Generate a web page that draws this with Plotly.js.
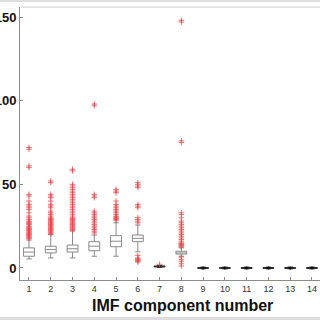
<!DOCTYPE html>
<html>
<head>
<meta charset="utf-8">
<script src="https://cdn.plot.ly/plotly-3.0.1.min.js"></script>
<style>html,body{margin:0;padding:0;background:#fff;}#chart{width:320px;height:320px;}</style>
</head>
<body>
<div id="chart"></div>
<script>
var components = [1,2,3,4,5,6,7,8,9,10,11,12,13,14];
var q1Values     = [7,   9,   9.5, 10.3, 12.7, 15.7, 0.6, 8.3, -0.2,-0.2,-0.2,-0.2,-0.2,-0.2];
var medianValues = [9.5, 11,  11.5, 13,  16,   17.7, 0.9, 9.0, 0, 0, 0, 0, 0, 0];
var q3Values     = [12,  13,  13.7, 15.7, 19.3, 19.7, 1.2, 10.0, 0.2, 0.2, 0.2, 0.2, 0.2, 0.2];
var lowerValues  = [5.4, 6,   6,    7,    7,    9.7,  0.3, 7.0, -0.5,-0.5,-0.5,-0.5,-0.5,-0.5];
var upperValues  = [16.7,20,  22,   19.7, 27,   25.7, 1.5, 12.0, 0.5, 0.5, 0.5, 0.5, 0.5, 0.5];

var out1 = [17.5,18,18.5,19,19.5,20,20.5,21,21.5,22,22.5,23,23.5,24,24.5,25,26,26.5,27,27.5,28,29,30,31,33,35,36,37,38,40,43,44,60,61,71,72];
var out2 = [20.5,21,21.5,22,22.5,23,23.5,24,24.5,25,25.5,26,26.5,27,27.5,28,28.5,29,29.5,30,31,32,33,34,36,37,38,40,42,43,44,51,52];
var out3 = [22.5,23,23.5,24,24.5,25,25.5,26,26.5,27,27.5,28,28.5,29,29.5,30,31,32,33,34,35,36,37,38,39,40,41,42,43,44,45,46,47,48,49,50,58,59];
var out4 = [21,22,23,24,25,26,27,28,29,30,31,32,33,34,42,43,44,97,98];
var out5 = [28.5,29,29.5,30,30.5,31,32,33,34,35,36,37,38,40,45,46,47];
var out6 = [27,28,29,30,36,37,38,48,49,50,51,3.5,4,4.5,5,5.5,6,7.5];
var out7 = [2.2];
var out8 = [12.5,13,13.5,14,14.5,15,16,17,18,19,20,21,22,23,24,25,26,27,28,30,32,33,75,76,147,148,6.5,5,4,2.5,1.2];
var outliers = [out1,out2,out3,out4,out5,out6,out7,out8,[],[],[],[],[],[]];
var tickLabels = ['1','2','3','4','5','6','7','8','9','10','11','12','13','14'];
var xTitle = 'IMF component number';

var boxColors = components.map(function(c){ return c >= 9 ? '#222222' : (c === 7 ? '#333333' : '#8a8a8a'); });

var traces = [];
components.forEach(function(c, i){
  traces.push({
    type: 'box',
    x: [c],
    q1: [q1Values[i]],
    median: [medianValues[i]],
    q3: [q3Values[i]],
    lowerfence: [lowerValues[i]],
    upperfence: [upperValues[i]],
    width: 0.5,
    whiskerwidth: 0.5,
    line: {color: boxColors[i], width: 1},
    fillcolor: 'rgba(0,0,0,0)',
    boxpoints: false,
    hoverinfo: 'skip',
    showlegend: false
  });
});

var ox = [], oy = [];
outliers.forEach(function(arr, i){
  arr.forEach(function(v){ ox.push(components[i]); oy.push(v); });
});
traces.push({
  type: 'scatter', mode: 'markers', x: ox, y: oy,
  marker: {symbol: 'cross-thin', size: 4, line: {color: 'rgba(232,70,75,0.75)', width: 1}},
  hoverinfo: 'skip', showlegend: false
});
var bx = components.filter(function(c){ return c >= 9; });
traces.push({
  type: 'scatter', mode: 'markers', x: bx, y: bx.map(function(){ return 0; }),
  marker: {symbol: 'circle', size: 3, color: '#111'},
  hoverinfo: 'skip', showlegend: false
});

var layout = {
  width: 320, height: 320,
  margin: {l: 20, r: 0, t: 7, b: 40},
  paper_bgcolor: '#ffffff', plot_bgcolor: '#ffffff',
  xaxis: {
    range: [0.587, 14.37],
    tickmode: 'array', tickvals: components, ticktext: tickLabels,
    showgrid: false, zeroline: false,
    showline: true, linecolor: '#8c8c8c', linewidth: 1,
    ticks: 'inside', ticklen: 3, tickcolor: '#8c8c8c',
    tickfont: {family: 'Liberation Sans, Arial, sans-serif', size: 9, color: '#333'},
    ticklabelstandoff: 0
  },
  yaxis: {
    range: [-7.2, 156],
    tickvals: [0, 50, 100, 150], ticktext: ['0','50','100','150'],
    showgrid: false, zeroline: false,
    showline: true, linecolor: '#8c8c8c', linewidth: 1,
    ticks: 'inside', ticklen: 3, tickcolor: '#8c8c8c',
    tickfont: {family: 'Liberation Sans, Arial, sans-serif', size: 13, color: '#111', weight: 'bold'}
  },
  annotations: [{
    text: xTitle, xref: 'paper', yref: 'paper', x: 0.542, y: -0.094,
    xanchor: 'center', yanchor: 'middle', showarrow: false,
    font: {family: 'Liberation Sans, Arial, sans-serif', size: 16, color: '#111', weight: 'bold'}
  }],
  shapes: [
    {type: 'line', xref: 'paper', yref: 'paper', x0: 0, x1: 1, y0: 1, y1: 1, line: {color: '#cccccc', width: 1}},
    {type: 'rect', xref: 'paper', yref: 'paper', x0: -0.07, x1: 1, y0: 1.0183, y1: 1.03, fillcolor: '#dddddd', line: {width: 0}},
    {type: 'rect', xref: 'paper', yref: 'paper', x0: -0.07, x1: 1, y0: -0.15, y1: -0.1355, fillcolor: '#dddddd', line: {width: 0}}
  ]
};

Plotly.newPlot('chart', traces, layout, {displayModeBar: false, staticPlot: true});
</script>
</body>
</html>
